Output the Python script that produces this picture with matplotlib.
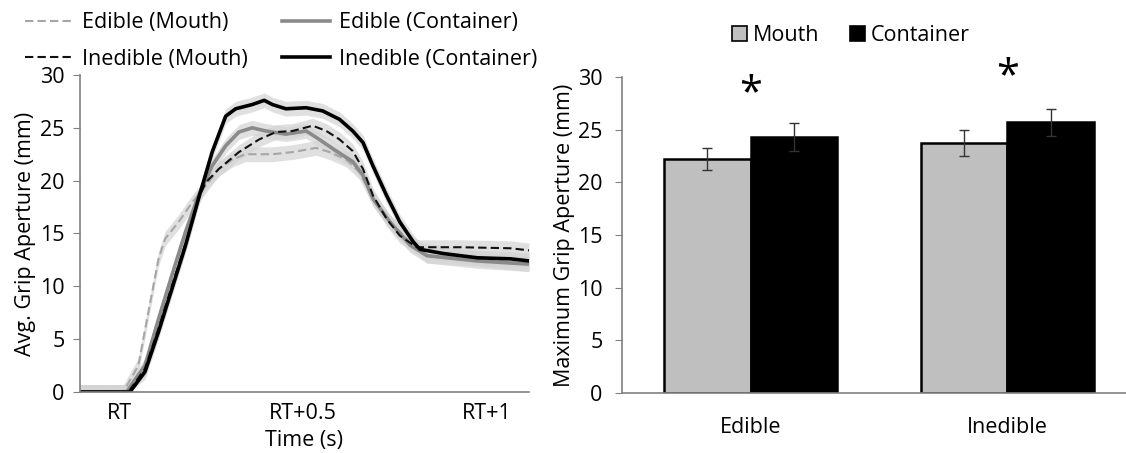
import numpy as np
import matplotlib
matplotlib.use("Agg")
import matplotlib.pyplot as plt
from matplotlib.lines import Line2D
from matplotlib.patches import Patch

plt.rcParams['font.family'] = ['Open Sans', 'DejaVu Sans']

# --- grip aperture time courses (time in s relative to RT, aperture in mm) ---
t_edible_mouth = [-0.107, 0.011, 0.052, 0.079, 0.107, 0.125, 0.162, 0.198, 0.235, 0.271,
                  0.308, 0.344, 0.417, 0.472, 0.536, 0.573, 0.618, 0.655, 0.691, 0.737,
                  0.783, 0.838, 0.975, 1.116]
edible_mouth = [0, 0, 2.5, 7.5, 12.6, 14.5, 16.1, 17.9, 19.5, 21.1,
                22.0, 22.5, 22.5, 22.7, 23.1, 22.7, 22.0, 20.8, 18.3, 16.1,
                14.5, 12.9, 12.6, 12.1]

t_edible_cont = [-0.107, 0.020, 0.070, 0.107, 0.143, 0.180, 0.216, 0.253, 0.290, 0.326,
                 0.362, 0.399, 0.454, 0.509, 0.545, 0.591, 0.636, 0.664, 0.691, 0.737,
                 0.792, 0.838, 0.975, 1.116]
edible_cont = [0, 0, 2.5, 6.9, 11.0, 15.1, 18.6, 21.4, 23.3, 24.6,
               25.0, 24.7, 24.4, 24.7, 23.9, 22.8, 21.8, 20.5, 18.3, 16.1,
               13.9, 12.9, 12.4, 12.1]

t_inedible_mouth = [-0.107, 0.025, 0.070, 0.107, 0.143, 0.180, 0.216, 0.235, 0.271, 0.326,
                    0.381, 0.427, 0.472, 0.527, 0.564, 0.600, 0.636, 0.664, 0.691, 0.728,
                    0.764, 0.810, 0.929, 1.066, 1.116]
inedible_mouth = [0, 0, 2.2, 6.0, 10.0, 14.0, 18.3, 19.8, 21.1, 22.7,
                  23.9, 24.6, 24.7, 25.2, 24.7, 23.9, 22.8, 21.1, 18.6, 16.4,
                  14.8, 13.7, 13.7, 13.6, 13.4]

t_inedible_cont = [-0.107, 0.029, 0.070, 0.107, 0.143, 0.180, 0.216, 0.253, 0.290, 0.317,
                   0.362, 0.395, 0.417, 0.454, 0.509, 0.554, 0.600, 0.636, 0.664, 0.691,
                   0.728, 0.764, 0.801, 0.819, 0.883, 0.975, 1.066, 1.116]
inedible_cont = [0, 0, 1.9, 5.7, 9.7, 13.8, 18.3, 22.7, 26.1, 26.8,
                 27.2, 27.6, 27.2, 26.8, 26.9, 26.6, 25.8, 24.7, 23.6, 21.4,
                 18.6, 16.1, 14.2, 13.5, 13.1, 12.7, 12.6, 12.4]

band_sem = 0.7  # shaded +/- SEM around each mean trace

time_ticks = [0, 0.5, 1.0]
time_labels = ['RT', 'RT+0.5', 'RT+1']

# --- maximum grip aperture bars ---
objects = ['Edible', 'Inedible']
mga_mouth = [22.2, 23.7]
mga_mouth_err = [1.05, 1.25]
mga_cont = [24.3, 25.7]
mga_cont_err = [1.3, 1.3]
star_y = [28.4, 30.0]

grey = '#808080'
fs = 15.5

fig = plt.figure(figsize=(11.26, 4.53), dpi=100)

# ---------------- left panel: time course ----------------
ax1 = fig.add_axes([0.071, 0.1347, 0.3988, 0.6998])
traces = [
    (t_edible_mouth, edible_mouth, dict(color='#a6a6a6', lw=1.5, ls=(0, (4, 2)))),
    (t_edible_cont, edible_cont, dict(color='#8a8a8a', lw=2.6, ls='-')),
    (t_inedible_mouth, inedible_mouth, dict(color='#111111', lw=1.5, ls=(0, (4, 2)))),
    (t_inedible_cont, inedible_cont, dict(color='#000000', lw=2.6, ls='-')),
]
for t, v, _ in traces:
    v = np.asarray(v, float)
    ax1.fill_between(t, np.clip(v - band_sem, 0, None), v + band_sem,
                     color='#d4d4d4', alpha=0.7, lw=0)
for t, v, style in traces:
    ax1.plot(t, v, **style)

ax1.set_xlim(-0.107, 1.116)
ax1.set_ylim(0, 30)
ax1.set_yticks(range(0, 31, 5))
ax1.set_xticks(time_ticks)
ax1.set_xticklabels(time_labels)
ax1.tick_params(axis='x', length=0, labelsize=fs, pad=8)
ax1.tick_params(axis='y', direction='out', length=5, color=grey, labelsize=fs, pad=6)
for s in ['top', 'right']:
    ax1.spines[s].set_visible(False)
for s in ['left', 'bottom']:
    ax1.spines[s].set_color(grey)
    ax1.spines[s].set_linewidth(1.2)
ax1.set_xlabel('Time (s)', fontsize=fs, labelpad=4)
ax1.set_ylabel('Avg. Grip Aperture (mm)', fontsize=fs, labelpad=3)

handles = [
    Line2D([], [], color='#a6a6a6', lw=1.5, ls=(0, (4, 2))),
    Line2D([], [], color='#111111', lw=1.5, ls=(0, (4, 2))),
    Line2D([], [], color='#8a8a8a', lw=2.6),
    Line2D([], [], color='#000000', lw=2.6),
]
labels = ['Edible (Mouth)', 'Inedible (Mouth)', 'Edible (Container)', 'Inedible (Container)']
fig.legend(handles, labels, loc='upper left', bbox_to_anchor=(25 / 1126, 0.973), ncol=2,
           frameon=False, fontsize=fs, handlelength=2.23, handletextpad=0.42,
           labelspacing=0.72, columnspacing=1.6, borderpad=0, borderaxespad=0)

# ---------------- right panel: maximum grip aperture ----------------
ax2 = fig.add_axes([622 / 1126, 0.1325, 514 / 1126, 0.6976])
x = np.arange(len(objects))
w = 0.335
ax2.bar(x - w / 2, mga_mouth, w, color='#bfbfbf', edgecolor='black', lw=1.8)
ax2.bar(x + w / 2, mga_cont, w, color='black', edgecolor='black', lw=1.8)
ax2.errorbar(x - w / 2, mga_mouth, yerr=mga_mouth_err, fmt='none',
             ecolor='#333333', elinewidth=1, capsize=3.5)
ax2.errorbar(x + w / 2, mga_cont, yerr=mga_cont_err, fmt='none',
             ecolor='#333333', elinewidth=1, capsize=3.5)
for xi, sy in zip(x, star_y):
    ax2.text(xi, sy, '*', ha='center', va='center', fontsize=30)

ax2.set_xlim(-0.5, 1.5)
ax2.set_ylim(0, 30)
ax2.set_yticks(range(0, 31, 5))
ax2.set_xticks(x)
ax2.set_xticklabels(objects)
ax2.tick_params(axis='x', length=0, labelsize=fs, pad=17)
ax2.tick_params(axis='y', direction='out', length=5, color=grey, labelsize=fs, pad=9)
for s in ['top', 'right']:
    ax2.spines[s].set_visible(False)
for s in ['left', 'bottom']:
    ax2.spines[s].set_color(grey)
    ax2.spines[s].set_linewidth(1.2)
ax2.set_ylabel('Maximum Grip Aperture (mm)', fontsize=fs, labelpad=2)

bar_handles = [Patch(facecolor='#bfbfbf', edgecolor='black', lw=1.2),
               Patch(facecolor='black', edgecolor='black', lw=1.2)]
fig.legend(bar_handles, ['Mouth', 'Container'], loc='upper left',
           bbox_to_anchor=(732 / 1126, 1 - 25 / 453), ncol=2, frameon=False, fontsize=fs,
           handlelength=0.7, handleheight=0.7, handletextpad=0.28, columnspacing=1.4,
           borderpad=0, borderaxespad=0)

fig.savefig('out.png', dpi=100)
